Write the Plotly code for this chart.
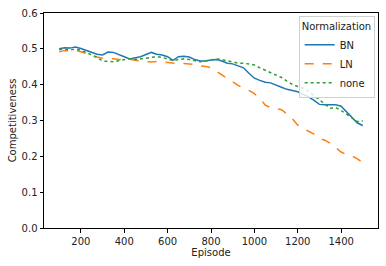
import plotly.graph_objects as go

episodes = list(range(100, 1501, 25))

bn = [0.500, 0.503, 0.502, 0.505, 0.501, 0.496, 0.490, 0.485, 0.483, 0.491,
      0.490, 0.485, 0.478, 0.472, 0.475, 0.478, 0.484, 0.490, 0.485, 0.483,
      0.478, 0.468, 0.478, 0.479, 0.477, 0.470, 0.466, 0.466, 0.469, 0.470,
      0.466, 0.460, 0.458, 0.452, 0.447, 0.432, 0.418, 0.412, 0.407, 0.405,
      0.400, 0.393, 0.387, 0.384, 0.380, 0.373, 0.366, 0.356, 0.345, 0.344,
      0.344, 0.344, 0.340, 0.325, 0.310, 0.293, 0.286]

ln = [0.492, 0.495, 0.494, 0.496, 0.492, 0.487, 0.481, 0.477, 0.474, 0.474,
      0.472, 0.470, 0.470, 0.471, 0.468, 0.467, 0.465, 0.463, 0.465, 0.463,
      0.462, 0.461, 0.459, 0.459, 0.458, 0.456, 0.452, 0.451, 0.447, 0.437,
      0.427, 0.417, 0.407, 0.398, 0.390, 0.384, 0.375, 0.362, 0.343, 0.336,
      0.333, 0.330, 0.318, 0.305, 0.287, 0.277, 0.270, 0.262, 0.250, 0.245,
      0.236, 0.225, 0.212, 0.205, 0.201, 0.193, 0.182]

none = [0.498, 0.499, 0.497, 0.499, 0.496, 0.490, 0.483, 0.475, 0.466, 0.465,
        0.464, 0.467, 0.470, 0.472, 0.470, 0.472, 0.475, 0.477, 0.478, 0.476,
        0.472, 0.467, 0.470, 0.472, 0.470, 0.466, 0.464, 0.466, 0.470, 0.472,
        0.470, 0.466, 0.462, 0.460, 0.460, 0.458, 0.455, 0.447, 0.440, 0.435,
        0.428, 0.420, 0.410, 0.401, 0.395, 0.390, 0.381, 0.370, 0.357, 0.346,
        0.334, 0.336, 0.328, 0.318, 0.307, 0.297, 0.299]

x_ticks = [200, 400, 600, 800, 1000, 1200, 1400]
y_ticks = [0.0, 0.1, 0.2, 0.3, 0.4, 0.5, 0.6]

fig = go.Figure()
fig.add_trace(go.Scatter(x=episodes, y=bn, name="BN", mode="lines",
                         line=dict(color="#1f77b4", width=1.5)))
fig.add_trace(go.Scatter(x=episodes, y=ln, name="LN", mode="lines",
                         line=dict(color="#ff7f0e", width=1.5, dash="dash")))
fig.add_trace(go.Scatter(x=episodes, y=none, name="none", mode="lines",
                         line=dict(color="#2ca02c", width=1.5, dash="dot")))

axis_common = dict(showgrid=False, zeroline=False, showline=True, mirror=True,
                   linecolor="black", linewidth=1, ticks="outside", ticklen=3.5,
                   tickcolor="black", tickfont=dict(size=10, color="#222"))

fig.update_layout(
    width=386, height=266,
    margin=dict(l=44, r=7, t=10, b=38),
    paper_bgcolor="white", plot_bgcolor="white",
    font=dict(family="DejaVu Sans", size=10, color="#222"),
    xaxis=dict(range=[30, 1570], tickvals=x_ticks,
               title=dict(text="Episode", font=dict(size=10), standoff=3),
               **axis_common),
    yaxis=dict(range=[0, 0.6], tickvals=y_ticks, tickformat=".1f",
               title=dict(text="Competitiveness", font=dict(size=10), standoff=3),
               **axis_common),
    legend=dict(x=0.99, y=0.985, xanchor="right", yanchor="top",
                bgcolor="rgba(255,255,255,0.8)", bordercolor="#d0d0d0", borderwidth=1,
                title=dict(text="Normalization", side="top", font=dict(size=10)),
                font=dict(size=10), tracegroupgap=0, itemwidth=30),
)

fig.write_html("out.html", config={"displayModeBar": False},
               post_script="document.body.style.margin='0';document.body.style.padding='0';")
